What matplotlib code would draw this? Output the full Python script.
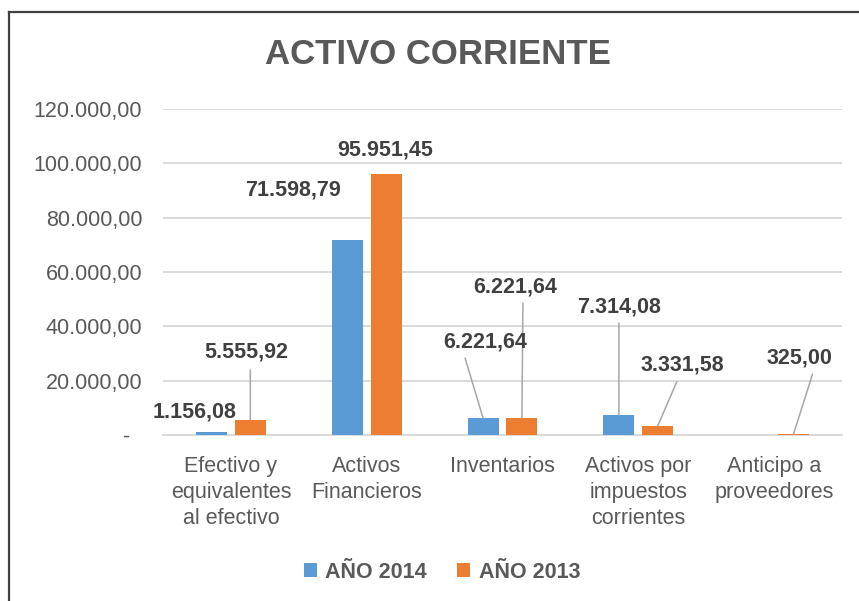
import numpy as np
import matplotlib.pyplot as plt
from matplotlib.lines import Line2D

categorias = ['Efectivo y\nequivalentes\nal efectivo', 'Activos\nFinancieros', 'Inventarios',
              'Activos por\nimpuestos\ncorrientes', 'Anticipo a\nproveedores']
anio_2014 = [1156.08, 71598.79, 6221.64, 7314.08, 0.0]
anio_2013 = [5555.92, 95951.45, 6221.64, 3331.58, 325.00]
etiquetas_2014 = ['1.156,08', '71.598,79', '6.221,64', '7.314,08', None]
etiquetas_2013 = ['5.555,92', '95.951,45', '6.221,64', '3.331,58', '325,00']
yticks = [0, 20000, 40000, 60000, 80000, 100000, 120000]
ytick_labels = ['-  ', '20.000,00', '40.000,00', '60.000,00', '80.000,00', '100.000,00', '120.000,00']

# label offsets (pixels from bar top) and leader start offsets (None = no leader)
off_2014 = [(-17, 20), (-54, 50), (2, 76), (0, 108), None]
lead_2014 = [None, None, (-18, 60), (0, 92), None]
off_2013 = [(-4, 68), (-1, 24), (-7, 131), (25, 61), (6, 76)]
lead_2013 = [(0, 50), None, (1, 115), (19, 44), (19, 60)]

azul = '#5B9BD5'
naranja = '#ED7D31'
gris = '#595959'
plt.rcParams['font.family'] = ['Liberation Sans', 'DejaVu Sans']

fig = plt.figure(figsize=(8.59, 6.01), dpi=100)
ax = fig.add_axes([163 / 859, 166 / 601, 679 / 859, 326 / 601])

x = np.arange(len(categorias))
w = 0.228
off = 0.143
b1 = ax.bar(x - off, anio_2014, w, color=azul, label='AÑO 2014', zorder=3)
b2 = ax.bar(x + off, anio_2013, w, color=naranja, label='AÑO 2013', zorder=3)

ax.set_xlim(-0.5, len(categorias) - 0.5)
ax.set_ylim(0, 120000)
ax.set_yticks(yticks)
ax.set_yticklabels(ytick_labels)
ax.set_xticks(x)
ax.set_xticklabels(categorias, linespacing=1.32)
ax.tick_params(axis='both', length=0, labelsize=15.5, labelcolor=gris)
ax.tick_params(axis='y', pad=15)
ax.tick_params(axis='x', pad=15)
ax.grid(axis='y', color='#D9D9D9', linewidth=1.4, zorder=0)
for s in ['top', 'right', 'left']:
    ax.spines[s].set_visible(False)
ax.spines['bottom'].set_color('#D9D9D9')
ax.spines['bottom'].set_linewidth(1.4)


def etiquetar(xs, vals, textos, offs, leads):
    for xi, v, t, o, l in zip(xs, vals, textos, offs, leads):
        if t is None:
            continue
        if l is not None:
            ax.annotate('', xy=(xi, v), xytext=l, textcoords='offset pixels',
                        arrowprops=dict(arrowstyle='-', color='#A6A6A6', lw=1.1,
                                        shrinkA=0, shrinkB=0), zorder=4)
        ax.annotate(t, xy=(xi, v), xytext=o, textcoords='offset pixels',
                    ha='center', va='center', fontsize=15.5, fontweight='bold',
                    color='#404040', zorder=5)


etiquetar(x - off, anio_2014, etiquetas_2014, off_2014, lead_2014)
etiquetar(x + off, anio_2013, etiquetas_2013, off_2013, lead_2013)

fig.text(438 / 859, 1 - 55 / 601, 'ACTIVO CORRIENTE', ha='center', va='center',
         fontsize=25, fontweight='bold', color=gris)

leg = fig.legend(handles=[b1, b2], loc='center', bbox_to_anchor=(442 / 859, 1 - 572 / 601),
                 ncol=2, frameon=False, handlelength=0.6, handleheight=0.6,
                 handletextpad=0.4, columnspacing=1.4,
                 prop={'size': 15.5, 'weight': 'bold'})
for t in leg.get_texts():
    t.set_color(gris)

# chart border (top and left visible)
fig.add_artist(Line2D([9 / 859, 1], [1 - 12 / 601, 1 - 12 / 601], color='#404040', lw=1.6))
fig.add_artist(Line2D([9 / 859, 9 / 859], [0, 1 - 12 / 601], color='#404040', lw=1.6))

fig.savefig('out.png', dpi=100)
